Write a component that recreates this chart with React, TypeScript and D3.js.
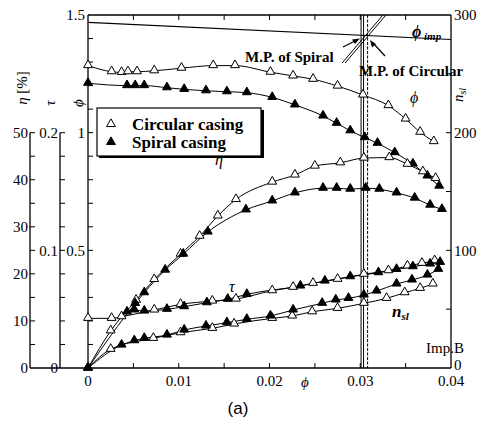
import React from 'react';
import * as d3 from 'd3';

// flow coefficient phi for each measured point, and the measured values
const psiCircPhi = [0, 0.0026, 0.0037, 0.0044, 0.0054, 0.0073, 0.0103, 0.0138, 0.0162, 0.0201, 0.0226, 0.0248, 0.0275, 0.0303, 0.0331, 0.035, 0.0366, 0.0381];
const psiCirc = [1.285, 1.259, 1.256, 1.259, 1.259, 1.263, 1.274, 1.285, 1.285, 1.257, 1.241, 1.227, 1.198, 1.16, 1.115, 1.058, 1.002, 0.962];
const psiSpirPhi = [0, 0.0043, 0.0052, 0.0062, 0.0087, 0.0106, 0.013, 0.0153, 0.0175, 0.0203, 0.0228, 0.0259, 0.0274, 0.0289, 0.0305, 0.0319, 0.0338, 0.0358, 0.0374, 0.0387];
const psiSpir = [1.21, 1.2, 1.2, 1.2, 1.191, 1.184, 1.178, 1.174, 1.17, 1.15, 1.118, 1.071, 1.04, 1.008, 0.979, 0.955, 0.915, 0.867, 0.816, 0.773];

const etaCircPhi = [0, 0.0025, 0.0053, 0.0073, 0.0102, 0.0123, 0.0143, 0.0163, 0.0203, 0.0228, 0.025, 0.0278, 0.0304, 0.0332, 0.0352, 0.0369, 0.0383];
const etaCirc = [0, 7.9, 14.4, 18.8, 24.2, 28.0, 32.3, 35.8, 39.5, 41.0, 42.9, 43.6, 44.6, 44.7, 43.3, 41.7, 40.3];
const etaSpirPhi = [0, 0.0052, 0.0062, 0.0085, 0.0105, 0.0132, 0.0174, 0.0203, 0.0228, 0.0259, 0.0274, 0.0289, 0.0306, 0.0321, 0.034, 0.036, 0.0377, 0.039];
const etaSpir = [0, 13.7, 16.0, 20.8, 24.2, 28.9, 33.6, 35.5, 37.2, 38.2, 38.2, 38.0, 38.2, 38.0, 37.2, 36.1, 34.6, 33.7];

const tauCircPhi = [0, 0.0026, 0.0037, 0.0073, 0.0102, 0.0137, 0.0163, 0.0203, 0.0226, 0.0248, 0.0275, 0.0304, 0.0331, 0.0352, 0.0368, 0.0382];
const tauCirc = [0.0422, 0.0422, 0.0436, 0.0493, 0.0541, 0.0569, 0.0586, 0.0657, 0.0686, 0.072, 0.0754, 0.0797, 0.0827, 0.0867, 0.089, 0.0912];
const tauSpirPhi = [0.0043, 0.0051, 0.0062, 0.0087, 0.0106, 0.0131, 0.0154, 0.0175, 0.0234, 0.0261, 0.0289, 0.032, 0.034, 0.0358, 0.0377, 0.0388];
const tauSpir = [0.0476, 0.0493, 0.0484, 0.0499, 0.0521, 0.0555, 0.0584, 0.0626, 0.0697, 0.0739, 0.0776, 0.081, 0.0838, 0.0861, 0.0884, 0.0898];

const nslCircPhi = [0, 0.0025, 0.0072, 0.0102, 0.0137, 0.0161, 0.0203, 0.0225, 0.0247, 0.0275, 0.0304, 0.0329, 0.0349, 0.0366, 0.038];
const nslCirc = [0, 15.9, 25.2, 30.0, 33.7, 37.4, 42.2, 44.2, 47.8, 50.7, 55.0, 59.2, 64.0, 67.7, 71.4];
const nslSpirPhi = [0, 0.0037, 0.0051, 0.0062, 0.0087, 0.0106, 0.013, 0.0153, 0.0175, 0.0201, 0.0226, 0.0258, 0.0273, 0.0287, 0.0304, 0.0318, 0.034, 0.0357, 0.0374, 0.0386];
const nslSpir = [0, 19.5, 23.2, 25.2, 28.0, 32.3, 35.7, 38.5, 41.4, 44.2, 49.3, 55.0, 57.8, 59.2, 62.0, 65.4, 71.4, 74.8, 79.0, 83.9];

// impeller line and the casing line
const psiImpPhi = [0, 0.04];
const psiImp = [1.469, 1.396];
const casingPhi = [0.028, 0.0325];
const casingPsi = [1.296, 1.5];
const mpSpiral = 0.0302;
const mpCircular = 0.0307;

const xTicks = [0, 0.01, 0.02, 0.03, 0.04];
const psiTicks = [0.5, 1, 1.5];
const etaTicks = [0, 10, 20, 30, 40, 50];
const tauTicks = [0, 0.1, 0.2];
const nslTicks = [0, 100, 200, 300];

const serif = "'Liberation Serif', 'DejaVu Serif', Times, serif";

export default function App() {
  const left = 88, right = 451, top = 15, bottom = 368;
  const x = d3.scaleLinear().domain([0, 0.04]).range([left, right]);
  const yPsi = d3.scaleLinear().domain([0, 1.5]).range([bottom, top]);
  const yEta = d3.scaleLinear().domain([0, 75]).range([bottom, top]);
  const yTau = d3.scaleLinear().domain([0, 0.3]).range([bottom, top]);
  const yN = d3.scaleLinear().domain([0, 300]).range([bottom, top]);
  const etaX = 30, tauX = 60;

  const tri = d3.symbol().type(d3.symbolTriangle).size(34)();

  const series = [
    { px: psiCircPhi, v: psiCirc, y: yPsi, open: true },
    { px: psiSpirPhi, v: psiSpir, y: yPsi, open: false },
    { px: etaCircPhi, v: etaCirc, y: yEta, open: true },
    { px: etaSpirPhi, v: etaSpir, y: yEta, open: false },
    { px: tauCircPhi, v: tauCirc, y: yTau, open: true },
    { px: tauSpirPhi, v: tauSpir, y: yTau, open: false },
    { px: nslCircPhi, v: nslCirc, y: yN, open: true },
    { px: nslSpirPhi, v: nslSpir, y: yN, open: false },
  ];

  const minor = (a, b, step) => d3.range(a, b + step / 2, step);

  const line = (px, v, y) =>
    d3.line<number>().x((d, i) => x(px[i])).y((d, i) => y(v[i])).curve(d3.curveMonotoneX)(v);

  return (
    <svg width={488} height={423} style={{ position: 'absolute', left: 0, top: 0, background: '#fff', fontFamily: serif }}>
      {/* frame */}
      <g stroke="#000" strokeWidth={1.3} fill="none">
        <line x1={etaX} y1={bottom} x2={right} y2={bottom} />
        <line x1={left} y1={top} x2={right} y2={top} />
        <line x1={left} y1={top} x2={left} y2={bottom} />
        <line x1={right} y1={top} x2={right} y2={bottom} />
        <line x1={etaX} y1={yEta(50)} x2={etaX} y2={bottom} />
        <line x1={tauX} y1={yTau(0.2)} x2={tauX} y2={bottom} />
      </g>
      <g stroke="#000" strokeWidth={1}>
        {minor(0.005, 0.035, 0.005).map(t => (
          <g key={'xt' + t}>
            <line x1={x(t)} x2={x(t)} y1={bottom} y2={bottom - 5} />
            <line x1={x(t)} x2={x(t)} y1={top} y2={top + 5} />
          </g>
        ))}
        {minor(0.1, 1.4, 0.1).map(t => (
          <line key={'pt' + t} x1={left} x2={left + 5} y1={yPsi(t)} y2={yPsi(t)} />
        ))}
        {minor(5, 50, 5).map(t => (
          <line key={'et' + t} x1={etaX} x2={etaX + 5} y1={yEta(t)} y2={yEta(t)} />
        ))}
        {minor(0.02, 0.2, 0.02).map(t => (
          <line key={'tt' + t} x1={tauX} x2={tauX + 5} y1={yTau(t)} y2={yTau(t)} />
        ))}
        {minor(50, 250, 50).map(t => (
          <line key={'nt' + t} x1={right} x2={right - 5} y1={yN(t)} y2={yN(t)} />
        ))}
      </g>

      {/* tick labels */}
      <g fontSize={15} fill="#000">
        {xTicks.map(t => (
          <text key={'xl' + t} x={x(t)} y={bottom + 18} textAnchor="middle">{t === 0 ? '0' : t.toFixed(2)}</text>
        ))}
        {psiTicks.map(t => (
          <text key={'pl' + t} x={left - 3} y={yPsi(t)} dy="0.35em" textAnchor="end">{t}</text>
        ))}
        {etaTicks.map(t => (
          <text key={'el' + t} x={etaX - 2} y={yEta(t)} dy="0.35em" textAnchor="end">{t}</text>
        ))}
        {tauTicks.map(t => (
          <text key={'tl' + t} x={tauX - 2} y={yTau(t)} dy="0.35em" textAnchor="end">{t}</text>
        ))}
        {nslTicks.map(t => (
          <text key={'nl' + t} x={right + 3} y={yN(t) - (t === 0 ? 3 : 0)} dy="0.35em" textAnchor="start">{t}</text>
        ))}
      </g>

      {/* axis titles */}
      <g fontSize={15} fontStyle="italic">
        <text transform="translate(27,88) rotate(-90)" textAnchor="middle">
          η  <tspan fontStyle="normal">[%]</tspan>
        </text>
        <text transform="translate(55,103) rotate(-90)" textAnchor="middle">τ</text>
        <text transform="translate(83,103) rotate(-90)" textAnchor="middle">ϕ</text>
        <text transform="translate(463,95) rotate(-90)" textAnchor="middle">
          n<tspan fontSize={10} dy="3">sl</tspan>
        </text>
        <text x={305} y={bottom + 19} textAnchor="middle">ϕ</text>
      </g>

      {/* impeller and casing lines */}
      <g stroke="#000" fill="none">
        <line x1={x(psiImpPhi[0])} y1={yPsi(psiImp[0])} x2={x(psiImpPhi[1])} y2={yPsi(psiImp[1])} strokeWidth={1.2} />
        <line x1={x(casingPhi[0])} y1={yPsi(casingPsi[0])} x2={x(casingPhi[1])} y2={yPsi(casingPsi[1])} strokeWidth={1} />
        <line x1={x(casingPhi[0]) + 3} y1={yPsi(casingPsi[0])} x2={x(casingPhi[1]) + 3} y2={yPsi(casingPsi[1])} strokeWidth={1} />
        <line x1={x(mpSpiral) - 1} x2={x(mpSpiral) - 1} y1={top} y2={bottom} strokeWidth={1} />
        <line x1={x(mpSpiral) + 1.5} x2={x(mpSpiral) + 1.5} y1={top} y2={bottom} strokeWidth={1} />
        <line x1={x(mpCircular) + 1} x2={x(mpCircular) + 1} y1={top} y2={bottom} strokeWidth={1} strokeDasharray="3,1.5" />
      </g>

      {/* data curves */}
      {series.map((s, k) => (
        <path key={'l' + k} d={line(s.px, s.v, s.y) || ''} fill="none" stroke="#000" strokeWidth={1} />
      ))}
      {series.map((s, k) => (
        <g key={'m' + k}>
          {s.v.map((v, i) => (
            <path key={i} d={tri} transform={`translate(${x(s.px[i])},${s.y(v) - 0.5})`}
              fill={s.open ? '#fff' : '#000'} stroke="#000" strokeWidth={1} />
          ))}
        </g>
      ))}

      {/* annotations */}
      <g fontWeight="bold" fontSize={15}>
        <text x={245} y={62}>M.P. of Spiral</text>
        <text x={359} y={76}>M.P. of Circular</text>
      </g>
      <g stroke="#000" strokeWidth={1.2} fill="#000">
        <line x1={343} y1={47} x2={357} y2={40} />
        <path d="M360,38.5 L352,39.5 L355,44 Z" stroke="none" />
        <line x1={385} y1={56} x2={373} y2={43} />
        <path d="M370,40 L372,47.5 L376,44 Z" stroke="none" />
      </g>
      <text x={412} y={37} fontSize={16} fontStyle="italic" fontWeight="bold">ϕ<tspan fontSize={11} dy="3"> imp</tspan></text>
      <text x={410} y={103} fontSize={16} fontStyle="italic">ϕ</text>
      <text x={215} y={165} fontSize={16} fontStyle="italic">η</text>
      <text x={229} y={292} fontSize={16} fontStyle="italic">τ</text>
      <text x={392} y={317} fontSize={17} fontStyle="italic" fontWeight="bold">n<tspan fontSize={11} dy="3">sl</tspan></text>
      <text x={426} y={353} fontSize={15}>Imp.B</text>

      {/* legend */}
      <g>
        <rect x={99} y={110} width={165} height={48} fill="#000" />
        <rect x={97} y={108} width={164} height={48} fill="#fff" stroke="#000" strokeWidth={1.2} />
        <path d={tri} transform="translate(111,124)" fill="#fff" stroke="#000" />
        <path d={tri} transform="translate(111,142)" fill="#000" stroke="#000" />
        <g fontWeight="bold" fontSize={17}>
          <text x={132} y={130}>Circular casing</text>
          <text x={132} y={148}>Spiral casing</text>
        </g>
      </g>

      <text x={238} y={414} fontSize={17} style={{ fontFamily: "'Liberation Sans', Arial, sans-serif" }} textAnchor="middle">(a)</text>
    </svg>
  );
}
